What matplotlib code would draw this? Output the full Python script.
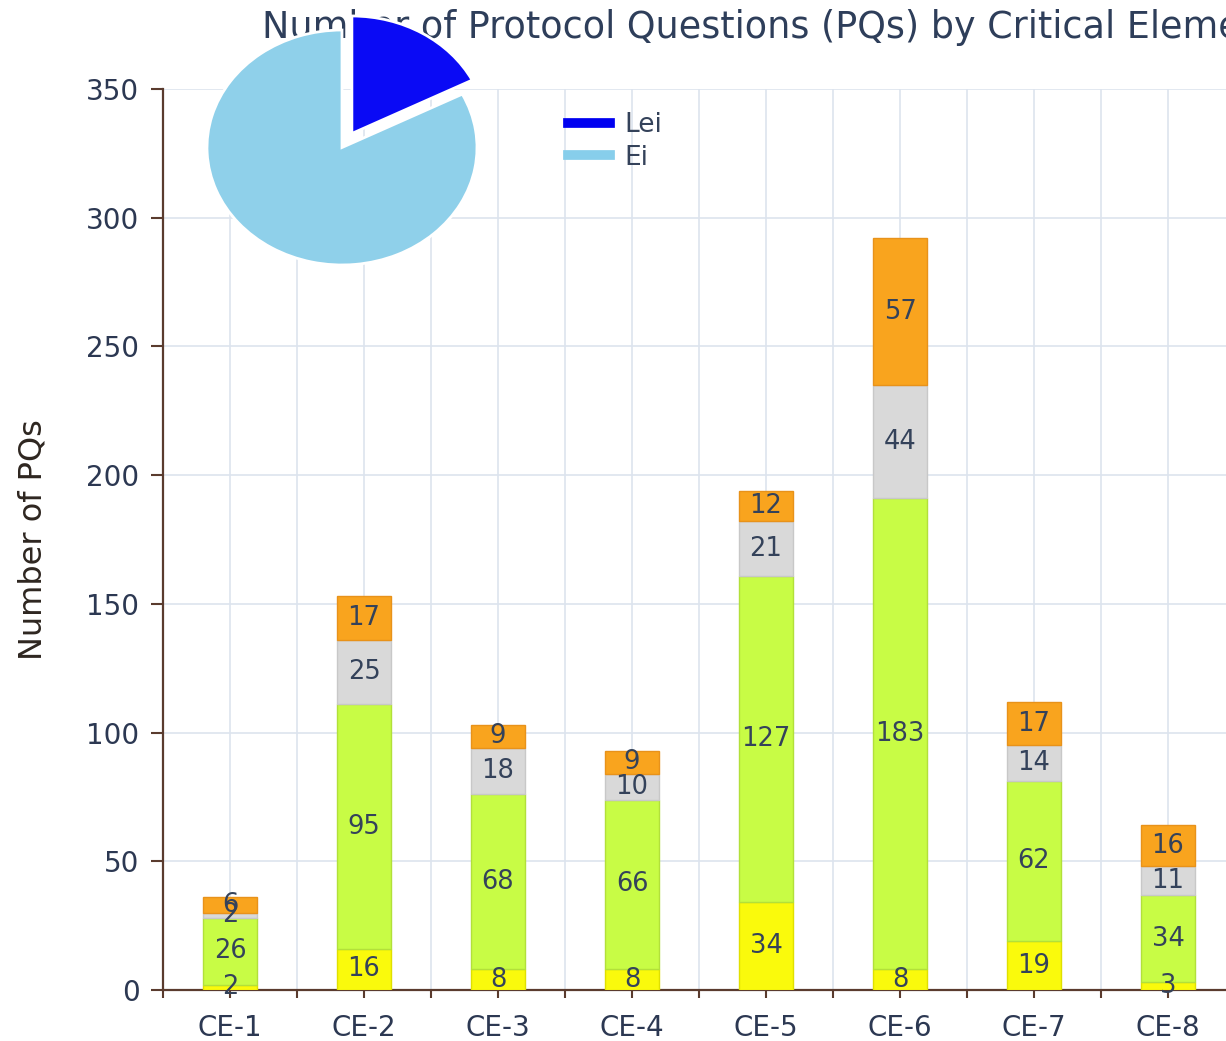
"""stacked PQ bars per critical element with Lei/Ei pie inset"""

import matplotlib
matplotlib.use('Agg')
import matplotlib.pyplot as plt
from matplotlib.lines import Line2D
import numpy as np

plt.rcParams['font.family'] = ['DejaVu Sans']

# data
categories = ['CE-1', 'CE-2', 'CE-3', 'CE-4', 'CE-5', 'CE-6', 'CE-7', 'CE-8']
yellowVals = [2, 16, 8, 8, 34, 8, 19, 3]
greenVals = [26, 95, 68, 66, 127, 183, 62, 34]
greyVals = [2, 25, 18, 10, 21, 44, 14, 11]
orangeVals = [6, 17, 9, 9, 12, 57, 17, 16]
pieLabels = ['Lei', 'Ei']
pieVals = [17.5, 82.5]

W, H = 1226, 1041
txtCol = '#34425a'
axCol = '#5a3b2e'
gridCol = '#dde4ee'

fig = plt.figure(figsize=(W / 100, H / 100), dpi=100)

# main axes (right end runs past the figure edge, like the reference)
ax = fig.add_axes([163 / W, 51 / H, 1072 / W, 901 / H])
x = np.arange(len(categories))
series = [yellowVals, greenVals, greyVals, orangeVals]
colors = ['#fafa0c', '#c8fc45', '#d9d9d9', '#f9a41e']
edges = ['#e0e000', '#b2e03a', '#c8c8c8', '#e8921a']
bottom = np.zeros(len(categories))
for vals, col, ec in zip(series, colors, edges):
    vals = np.array(vals)
    ax.bar(x, vals, 0.41, bottom=bottom, color=col, edgecolor=ec, linewidth=1, zorder=3)
    for xi, b, v in zip(x, bottom, vals):
        ax.text(xi, b + v / 2, str(v), ha='center', va='center', fontsize=18.5,
                color=txtCol, zorder=4)
    bottom = bottom + vals

ax.set_xlim(-0.5, 7.5)
ax.set_ylim(0, 350)
ax.set_yticks(np.arange(0, 351, 50))
ax.set_xticks(x)
ax.set_xticks(np.arange(-0.5, 7.6, 1), minor=True)
ax.set_xticklabels(categories)
ax.grid(True, which='both', color=gridCol, linewidth=1.2, zorder=0)
ax.set_axisbelow(True)
for s in ['top', 'right']:
    ax.spines[s].set_visible(False)
for s in ['left', 'bottom']:
    ax.spines[s].set_color(axCol)
    ax.spines[s].set_linewidth(1.6)
ax.tick_params(axis='y', length=9, width=1.5, color=axCol, labelsize=20, labelcolor='#2c3852', pad=8)
ax.tick_params(axis='x', which='both', length=6, width=1.5, color=axCol, labelsize=20,
               labelcolor='#2c3852', pad=11)
ax.set_ylabel('Number of PQs', fontsize=23, color='#2e2620', labelpad=27)

fig.text(262 / W, 1 - 27 / H, 'Number of Protocol Questions (PQs) by Critical Element',
         ha='left', va='center', fontsize=26.3, color='#2e3e5a', zorder=2)

# legend for the pie
handles = [Line2D([], [], color='#0000f0', lw=7), Line2D([], [], color='#87ceeb', lw=7)]
fig.legend(handles, pieLabels, loc='upper left', bbox_to_anchor=(568 / W, 1 - 112 / H),
           frameon=False, fontsize=19, handlelength=1.6, handletextpad=0.55,
           labelspacing=0.25, borderpad=0, borderaxespad=0, labelcolor=txtCol)

# pie inset, slightly squashed
pax = fig.add_axes([207 / W, 1 - 265 / H, 270 / W, 235 / H], zorder=5)
pax.pie(pieVals, colors=['#0a0af5', '#8fd0ea'], startangle=90, counterclock=False,
        explode=[0.14, 0], radius=1, wedgeprops=dict(edgecolor='white', linewidth=2))
pax.set_aspect('auto')
pax.set_xlim(-1, 1)
pax.set_ylim(-1, 1)
pax.axis('off')

fig.savefig('out.png', dpi=100)
